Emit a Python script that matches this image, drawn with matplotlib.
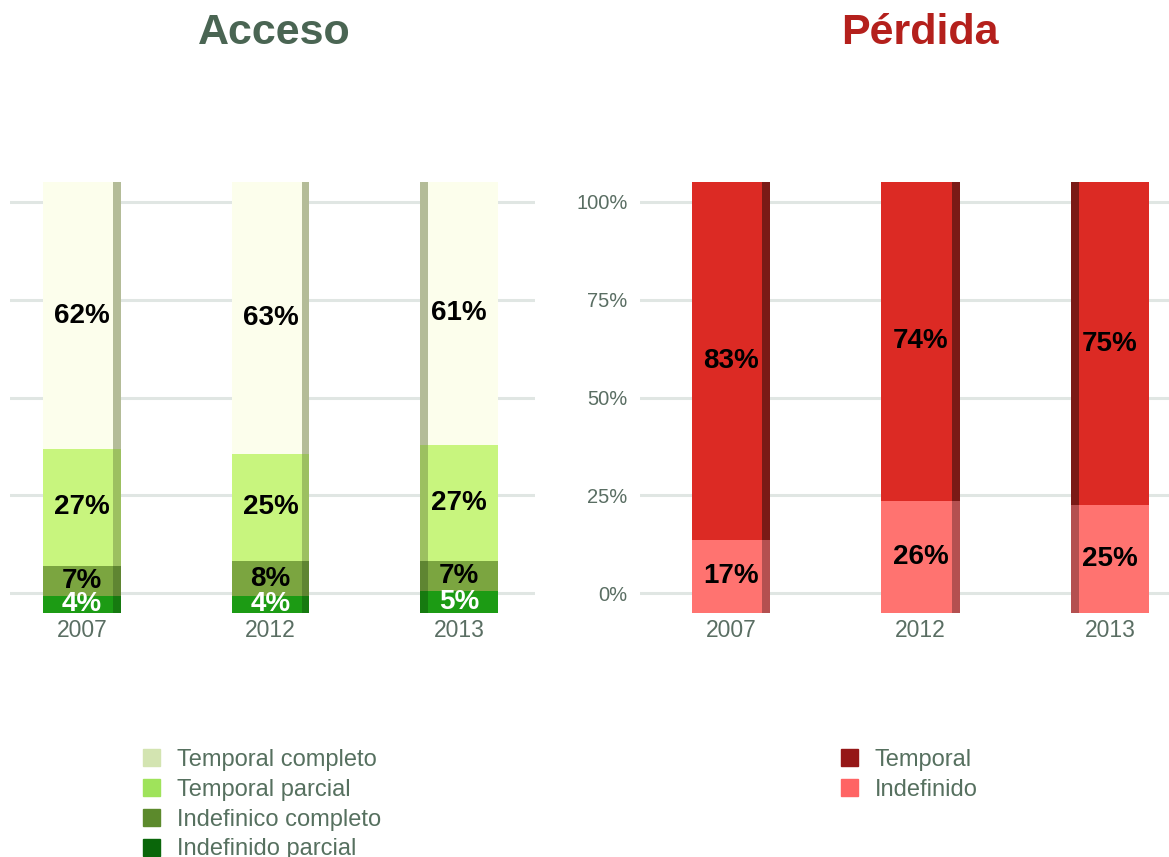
import matplotlib
matplotlib.use('Agg')
import matplotlib.pyplot as plt
from matplotlib.patches import Patch

plt.rcParams['font.family'] = ['Liberation Sans', 'DejaVu Sans']

years = ['2007', '2012', '2013']

# Acceso (stacked from bottom)
acceso_labels = ['Indefinido parcial', 'Indefinico completo', 'Temporal parcial', 'Temporal completo']
acceso_values = [
    [4, 4, 5],
    [7, 8, 7],
    [27, 25, 27],
    [62, 63, 61],
]
acceso_face = ['#1c9b14', '#7ba540', '#c8f57e', '#fcfeec']
acceso_side = ['#167a10', '#5f8532', '#9cc060', '#b4bc98']
acceso_legend = ['#0a660a', '#5c8a2c', '#9fe35b', '#d3e4b1']
acceso_text = ['white', 'black', 'black', 'black']

# Pérdida (stacked from bottom)
perdida_labels = ['Indefinido', 'Temporal']
perdida_values = [
    [17, 26, 25],
    [83, 74, 75],
]
perdida_face = ['#ff7370', '#dc2a24']
perdida_side = ['#b45050', '#7a1a16']
perdida_legend = ['#ff6464', '#951717']

grid_ticks = [0, 25, 50, 75, 100]
tick_color = '#5a6e63'

fig = plt.figure(figsize=(11.69, 8.57), dpi=100)


def panel(rect, xlim, values, faces, sides, textcols, side_left, show_yticks):
    ax = fig.add_axes(rect)
    ax.set_xlim(*xlim)
    ax.set_ylim(-5.1, 105.1)
    ax.set_yticks(grid_ticks)
    ax.yaxis.grid(True, color='#e0e6e3', lw=2.2)
    ax.set_axisbelow(True)
    if show_yticks:
        ax.set_yticklabels([f'{t}%' for t in grid_ticks], fontsize=14.5, color=tick_color)
    else:
        ax.set_yticklabels([])
    ax.tick_params(axis='y', length=0, pad=9)
    ax.set_xticks(range(len(years)))
    ax.set_xticklabels(years, fontsize=16.5, color=tick_color)
    ax.tick_params(axis='x', length=0, pad=4)
    for s in ax.spines.values():
        s.set_visible(False)

    bx = ax.twinx()
    bx.set_ylim(0, 100)
    bx.set_yticks([])
    for s in bx.spines.values():
        s.set_visible(False)

    w = 0.413
    sw = 0.042
    bottoms = [0] * len(years)
    for k, vals in enumerate(values):
        for i, v in enumerate(vals):
            if side_left[i]:
                bx.bar(i - w / 2 + sw / 2, v, sw, bottom=bottoms[i], color=sides[k], lw=0)
                bx.bar(i + sw / 2, v, w - sw, bottom=bottoms[i], color=faces[k], lw=0)
            else:
                bx.bar(i - sw / 2, v, w - sw, bottom=bottoms[i], color=faces[k], lw=0)
                bx.bar(i + w / 2 - sw / 2, v, sw, bottom=bottoms[i], color=sides[k], lw=0)
            bx.text(i, bottoms[i] + v / 2, f'{v}%', ha='center', va='center',
                    fontsize=20, fontweight='bold', color=textcols[k])
            bottoms[i] += v
    return ax


bottom = (857 - 613) / 857
height = (613 - 182) / 857

panel([10 / 1169, bottom, 525 / 1169, height], (-0.382, 2.403),
      acceso_values, acceso_face, acceso_side, acceso_text,
      [False, False, True], False)
panel([640 / 1169, bottom, 529 / 1169, height], (-0.48, 2.311),
      perdida_values, perdida_face, perdida_side, ['black', 'black'],
      [False, False, True], True)

fig.text(274 / 1169, 1 - 33 / 857, 'Acceso', ha='center', va='center',
         fontsize=31, fontweight='bold', color='#4a6553')
fig.text(920 / 1169, 1 - 33 / 857, 'Pérdida', ha='center', va='center',
         fontsize=31, fontweight='bold', color='#b4201c')

leg_kw = dict(frameon=False, loc='upper left', fontsize=17, handlelength=0.72,
              handleheight=0.72, labelspacing=0.33, handletextpad=0.7,
              borderpad=0, borderaxespad=0, labelcolor='#56705f')
h1 = [Patch(color=c, label=l) for c, l in zip(acceso_legend[::-1], acceso_labels[::-1])]
fig.legend(handles=h1, bbox_to_anchor=(143 / 1169, 1 - 749 / 857), **leg_kw)
h2 = [Patch(color=c, label=l) for c, l in zip(perdida_legend[::-1], perdida_labels[::-1])]
fig.legend(handles=h2, bbox_to_anchor=(841 / 1169, 1 - 749 / 857), **leg_kw)

fig.savefig('out.png', dpi=100, facecolor='white')
